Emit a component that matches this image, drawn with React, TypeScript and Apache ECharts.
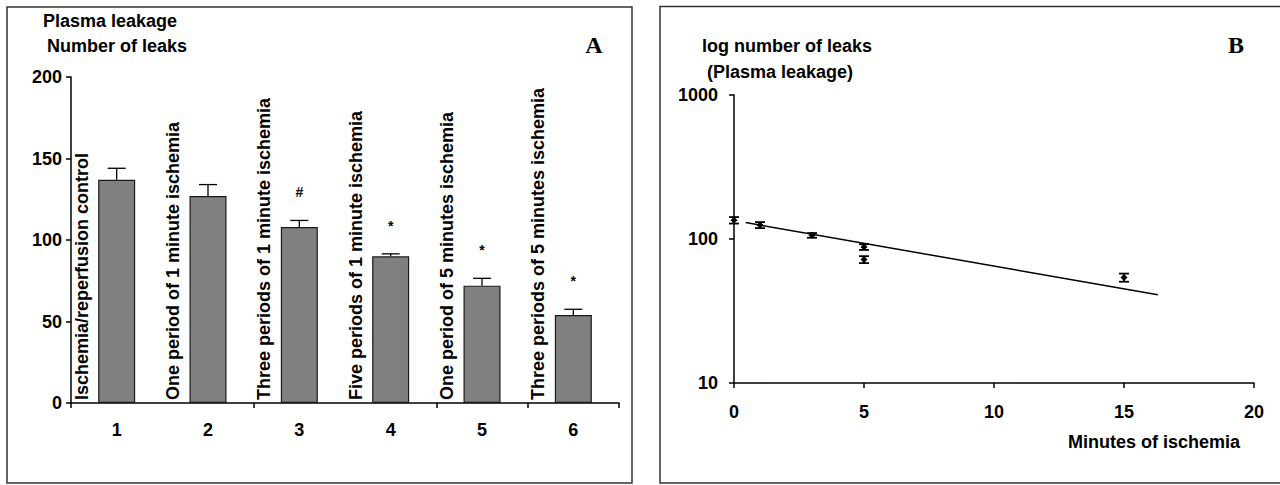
import React, { useEffect, useRef } from "react";
import * as echarts from "echarts";

// Panel A data
const groupNumbers = ["1", "2", "3", "4", "5", "6"];
const groupLabels = [
  "Ischemia/reperfusion control",
  "One period of 1 minute ischemia",
  "Three periods of 1 minute ischemia",
  "Five periods of 1 minute ischemia",
  "One period of 5 minutes ischemia",
  "Three periods of 5 minutes ischemia",
];
const leaks = [137, 127, 108, 90, 72, 54];
const leaksErr = [7, 7, 4, 1.5, 4.5, 3.5];
const significance = ["", "", "#", "*", "*", "*"];

// Panel B data
const minutes = [0, 1, 3, 5, 5, 15];
const leaksB = [135, 125, 106, 88, 72, 54];
const leaksBErr = [7, 6, 4, 4, 4, 3.5];
const trendMinutes = [0.45, 16.3];
const trendLeaks = [130, 41];

const FONT = '"Liberation Sans", Arial, sans-serif';

export default function App() {
  const ref = useRef<HTMLDivElement>(null);
  useEffect(() => {
    if (!ref.current) return;
    const chart = echarts.init(ref.current, null, { renderer: "svg" });
    const axisLineStyle = { color: "#000", width: 1.5 };
    const labelStyle = { color: "#000", fontFamily: FONT, fontWeight: "bold" as const, fontSize: 18 };
    const option: any = {
      animation: false,
      backgroundColor: "#fff",
      grid: [
        { left: 71, top: 77, width: 548, height: 326 },
        { left: 734, top: 95, width: 520, height: 288 },
      ],
      xAxis: [
        {
          type: "category",
          gridIndex: 0,
          data: groupNumbers,
          axisLine: { lineStyle: axisLineStyle },
          axisTick: { show: true, interval: 1, length: 5, lineStyle: axisLineStyle },
          axisLabel: { ...labelStyle, margin: 18, interval: 0 },
          splitLine: { show: false },
        },
        {
          type: "value",
          gridIndex: 1,
          min: 0,
          max: 20,
          interval: 5,
          axisLine: { lineStyle: axisLineStyle },
          axisTick: { show: true, length: 5, lineStyle: axisLineStyle },
          axisLabel: { ...labelStyle, margin: 20 },
          splitLine: { show: false },
        },
      ],
      yAxis: [
        {
          type: "value",
          gridIndex: 0,
          min: 0,
          max: 200,
          interval: 50,
          axisLine: { show: true, lineStyle: axisLineStyle },
          axisTick: { show: true, length: 5, lineStyle: axisLineStyle },
          axisLabel: { ...labelStyle, margin: 9 },
          splitLine: { show: false },
        },
        {
          type: "log",
          logBase: 10,
          gridIndex: 1,
          min: 10,
          max: 1000,
          axisLine: { show: true, lineStyle: axisLineStyle },
          axisTick: { show: true, length: 5, lineStyle: axisLineStyle },
          minorTick: { show: false },
          axisLabel: { ...labelStyle, margin: 16, formatter: (v: number) => String(Math.round(v)) },
          splitLine: { show: false },
        },
      ],
      series: [
        {
          type: "bar",
          xAxisIndex: 0,
          yAxisIndex: 0,
          data: leaks,
          barWidth: 37,
          itemStyle: { color: "#808080", borderColor: "#1a1a1a", borderWidth: 1.2 },
          z: 2,
        },
        {
          type: "custom",
          xAxisIndex: 0,
          yAxisIndex: 0,
          data: leaks.map((v, i) => [i, v, leaksErr[i]]),
          z: 3,
          renderItem: (params: any, api: any) => {
            const x = api.value(0);
            const v = api.value(1);
            const e = api.value(2);
            const base = api.coord([x, v]);
            const top = api.coord([x, v + e]);
            const st = { stroke: "#000", lineWidth: 1.3 };
            return {
              type: "group",
              children: [
                { type: "line", shape: { x1: top[0], y1: base[1], x2: top[0], y2: top[1] }, style: st },
                { type: "line", shape: { x1: top[0] - 9, y1: top[1], x2: top[0] + 9, y2: top[1] }, style: st },
              ],
            };
          },
        },
        {
          type: "custom",
          xAxisIndex: 0,
          yAxisIndex: 0,
          data: groupLabels.map((_, i) => [i, 0]),
          z: 4,
          renderItem: (params: any, api: any) => {
            const p = api.coord([api.value(0), 0]);
            return {
              type: "text",
              x: p[0] - 35,
              y: p[1] - 3,
              rotation: Math.PI / 2,
              style: {
                text: groupLabels[params.dataIndex],
                fill: "#000",
                font: `bold 18px ${FONT}`,
                align: "left",
                verticalAlign: "middle",
              },
            };
          },
        },
        {
          type: "custom",
          xAxisIndex: 0,
          yAxisIndex: 0,
          data: leaks.map((v, i) => [i, v + leaksErr[i]]),
          z: 4,
          renderItem: (params: any, api: any) => {
            const p = api.coord([api.value(0), api.value(1)]);
            return {
              type: "text",
              x: p[0],
              y: p[1] - 28,
              style: {
                text: significance[params.dataIndex],
                fill: "#000",
                font: `bold 14px ${FONT}`,
                align: "center",
                verticalAlign: "middle",
              },
            };
          },
        },
        {
          type: "line",
          xAxisIndex: 1,
          yAxisIndex: 1,
          data: trendMinutes.map((m, i) => [m, trendLeaks[i]]),
          symbol: "none",
          lineStyle: { color: "#000", width: 1.5 },
          z: 2,
        },
        {
          type: "custom",
          xAxisIndex: 1,
          yAxisIndex: 1,
          data: minutes.map((m, i) => [m, leaksB[i], leaksBErr[i]]),
          z: 3,
          renderItem: (params: any, api: any) => {
            const x = api.value(0);
            const v = api.value(1);
            const e = api.value(2);
            const c = api.coord([x, v]);
            const hi = api.coord([x, v + e]);
            const lo = api.coord([x, v - e]);
            const st = { stroke: "#000", lineWidth: 1.8 };
            const d = 3.5;
            return {
              type: "group",
              children: [
                { type: "line", shape: { x1: c[0], y1: lo[1], x2: c[0], y2: hi[1] }, style: st },
                { type: "line", shape: { x1: c[0] - 5, y1: hi[1], x2: c[0] + 5, y2: hi[1] }, style: st },
                { type: "line", shape: { x1: c[0] - 5, y1: lo[1], x2: c[0] + 5, y2: lo[1] }, style: st },
                {
                  type: "polygon",
                  shape: { points: [[c[0], c[1] - d], [c[0] + d, c[1]], [c[0], c[1] + d], [c[0] - d, c[1]]] },
                  style: { fill: "#000" },
                },
              ],
            };
          },
        },
      ],
      graphic: [
        { type: "rect", shape: { x: 7, y: 7, width: 625, height: 476 }, style: { fill: "none", stroke: "#333", lineWidth: 1.5 } },
        { type: "rect", shape: { x: 660, y: 6.5, width: 640, height: 476.5 }, style: { fill: "none", stroke: "#333", lineWidth: 1.5 } },
        { type: "text", x: 43, y: 21, style: { text: "Plasma leakage", font: `bold 18px ${FONT}`, fill: "#000", verticalAlign: "middle" } },
        { type: "text", x: 47, y: 46, style: { text: "Number of leaks", font: `bold 18px ${FONT}`, fill: "#000", verticalAlign: "middle" } },
        { type: "text", x: 594, y: 45, style: { text: "A", font: 'bold 24px "Liberation Serif", "Times New Roman", serif', fill: "#000", align: "center", verticalAlign: "middle" } },
        { type: "text", x: 702, y: 46, style: { text: "log number of leaks", font: `bold 18px ${FONT}`, fill: "#000", verticalAlign: "middle" } },
        { type: "text", x: 707, y: 72, style: { text: "(Plasma leakage)", font: `bold 18px ${FONT}`, fill: "#000", verticalAlign: "middle" } },
        { type: "text", x: 1236, y: 45, style: { text: "B", font: 'bold 24px "Liberation Serif", "Times New Roman", serif', fill: "#000", align: "center", verticalAlign: "middle" } },
        { type: "text", x: 1240, y: 442, style: { text: "Minutes of ischemia", font: `bold 18px ${FONT}`, fill: "#000", align: "right", verticalAlign: "middle" } },
      ],
    };
    chart.setOption(option);
    return () => chart.dispose();
  }, []);
  return (
    <div
      ref={ref}
      style={{ position: "fixed", left: 0, top: 0, width: 1280, height: 485, background: "#fff" }}
    />
  );
}
